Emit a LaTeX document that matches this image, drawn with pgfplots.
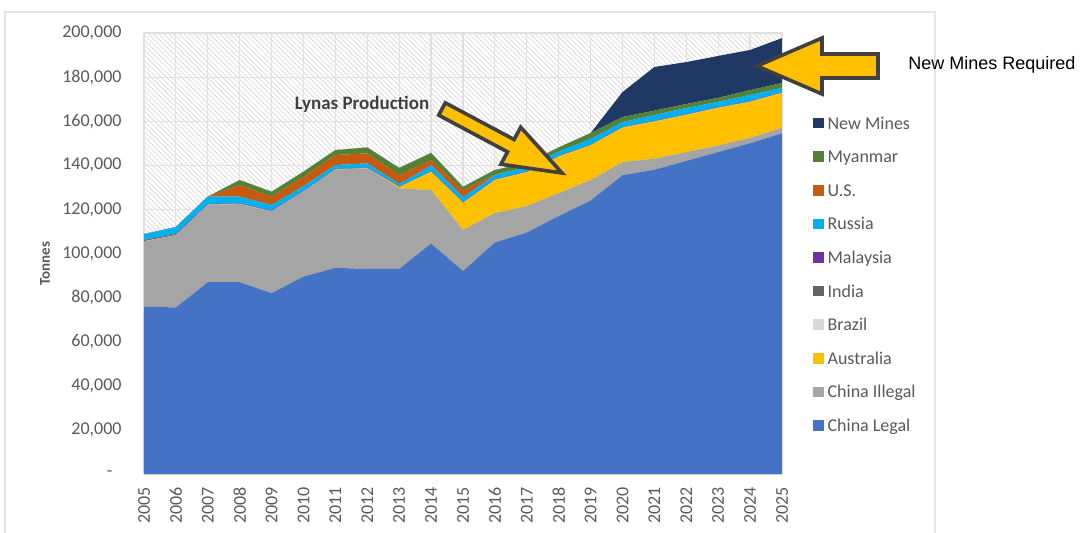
\documentclass[border=0pt]{standalone}
\usepackage{pgfplots}
\pgfplotsset{compat=1.18}
\usepackage{pgfplotstable}
\usepackage{fontspec}
\setmainfont{Carlito}
\newfontfamily\arialfont{Liberation Sans}
\usetikzlibrary{patterns.meta}

\definecolor{cl}{HTML}{4472C4}
\definecolor{ci}{HTML}{A5A5A5}
\definecolor{au}{HTML}{FFC000}
\definecolor{br}{HTML}{D9D9D9}
\definecolor{in}{HTML}{636363}
\definecolor{my}{HTML}{7030A0}
\definecolor{ru}{HTML}{00B0F0}
\definecolor{us}{HTML}{C55A11}
\definecolor{mm}{HTML}{548235}
\definecolor{nm}{HTML}{203864}
\definecolor{tickgray}{HTML}{595959}
\definecolor{arrowline}{HTML}{404040}

\pgfplotstableread{
year CL CI AU BR IN MY RU US MM NM
2005 76000 29500 0 100 500 100 2600 0 0 0
2006 75500 32700 0 100 500 100 3100 0 0 0
2007 87000 35000 0 100 200 100 3400 0 0 0
2008 87000 35400 0 100 200 100 3000 5200 2300 0
2009 82000 37000 0 100 200 100 2600 3800 2200 0
2010 89500 38500 0 100 200 100 2200 4200 2300 0
2011 93500 44500 0 100 200 100 1700 4600 2200 0
2012 93000 45600 0 100 200 100 1900 4500 2700 0
2013 93000 36500 500 100 200 100 1100 4100 3200 0
2014 104500 24300 8200 100 200 100 2600 2400 3200 0
2015 92000 18700 12200 100 200 100 2300 3200 1400 0
2016 105000 13400 14900 100 200 100 1900 200 2100 0
2017 109500 12000 15300 100 200 100 2000 0 1800 0
2018 117000 10400 16500 100 200 100 2000 0 1800 0
2019 124000 9300 15700 100 200 100 2600 0 2600 0
2020 135500 6000 15500 100 200 100 2200 0 2300 11300
2021 138000 5000 16800 100 200 100 2600 0 2000 19800
2022 142000 4000 16800 100 200 100 2800 0 1800 19000
2023 146000 3000 17000 100 200 100 2400 0 1800 19000
2024 150000 2500 16200 100 200 100 2800 0 2200 18200
2025 154500 2500 15800 100 200 100 2000 0 2100 20400
}\data

\begin{document}
\begin{tikzpicture}
% chart area border
\draw[gray!20, line width=0.6pt] (-69.5pt,-40pt) rectangle (395.5pt,231pt);
\begin{axis}[
  at={(0,0)}, anchor=south west,
  scale only axis, width=319pt, height=220.5pt,
  xmin=2005, xmax=2025, ymin=0, ymax=200000,
  stack plots=y,
  scaled y ticks=false,
  xtick={2005,2006,...,2025},
  xticklabels={2005,2006,2007,2008,2009,2010,2011,2012,2013,2014,2015,2016,2017,2018,2019,2020,2021,2022,2023,2024,2025},
  ytick={0,20000,...,200000},
  yticklabels={{-\hphantom{0}},{20,000},{40,000},{60,000},{80,000},{100,000},{120,000},{140,000},{160,000},{180,000},{200,000}},
  grid=major,
  grid style={draw=gray!24, line width=0.6pt},
  axis line style={draw=none},
  major tick length=0pt,
  tick label style={font=\fontsize{9}{10}\selectfont, text=tickgray, inner sep=0pt},
  x tick label style={rotate=90, anchor=east},
  xticklabel shift=6.5pt,
  yticklabel shift=11pt,
  ylabel={\textbf{Tonnes}},
  ylabel style={font=\fontsize{7.5}{9}\selectfont, text=tickgray, at={(axis description cs:-0.155,0.477)}, anchor=center},
  axis background/.style={pattern={Lines[angle=-45,distance=1.8pt,line width=0.3pt]}, pattern color=gray!34},
  reverse legend,
  legend cell align=left,
  legend image code/.code={\fill[#1] (0pt,-2.65pt) rectangle (5.3pt,2.65pt);},
  legend style={at={(1.0486,0.834)}, anchor=north west, draw=none, fill=none,
    inner sep=0pt, outer sep=0pt, row sep=0pt, column sep=2pt,
    font=\fontsize{9}{10}\selectfont, text=tickgray,
    nodes={inner sep=0pt, text height=11.4pt, text depth=5.4pt}},
]
\addplot[fill=cl, draw=none] table[x=year,y=CL]{\data} \closedcycle;
\addlegendentry{China Legal}
\addplot[fill=ci, draw=none] table[x=year,y=CI]{\data} \closedcycle;
\addlegendentry{China Illegal}
\addplot[fill=au, draw=none] table[x=year,y=AU]{\data} \closedcycle;
\addlegendentry{Australia}
\addplot[fill=br, draw=none] table[x=year,y=BR]{\data} \closedcycle;
\addlegendentry{Brazil}
\addplot[fill=in, draw=none] table[x=year,y=IN]{\data} \closedcycle;
\addlegendentry{India}
\addplot[fill=my, draw=none] table[x=year,y=MY]{\data} \closedcycle;
\addlegendentry{Malaysia}
\addplot[fill=ru, draw=none] table[x=year,y=RU]{\data} \closedcycle;
\addlegendentry{Russia}
\addplot[fill=us, draw=none] table[x=year,y=US]{\data} \closedcycle;
\addlegendentry{U.S.}
\addplot[fill=mm, draw=none] table[x=year,y=MM]{\data} \closedcycle;
\addlegendentry{Myanmar}
\addplot[fill=nm, draw=none] table[x=year,y=NM]{\data} \closedcycle;
\addlegendentry{New Mines}
\end{axis}
% Lynas arrow
\begin{scope}[shift={(149pt,182.5pt)}, rotate=-28.07]
\draw[fill=au, draw=arrowline, line width=1.8pt, line join=miter]
  (0pt,3.5pt) -- (39pt,3.5pt) -- (39pt,10.5pt) -- (68pt,0pt) -- (39pt,-10.5pt) -- (39pt,-3.5pt) -- (0pt,-3.5pt) -- cycle;
\end{scope}
\node[font=\fontsize{9.5}{11}\selectfont\bfseries, text=arrowline] at (109pt,185pt) {Lynas Production};
% New mines arrow
\begin{scope}[shift={(367pt,204pt)}, rotate=180]
\draw[fill=au, draw=arrowline, line width=1.8pt, line join=miter]
  (0pt,6pt) -- (28pt,6pt) -- (28pt,14pt) -- (60.5pt,0pt) -- (28pt,-14pt) -- (28pt,-6pt) -- (0pt,-6pt) -- cycle;
\end{scope}
\node[font=\arialfont\fontsize{9}{11}\selectfont, anchor=west, inner sep=0pt] at (382pt,204.5pt) {New Mines Required};
\pgfresetboundingbox
\path[use as bounding box] (-72pt,-29pt) rectangle (472pt,237pt);
\end{tikzpicture}
\end{document}
